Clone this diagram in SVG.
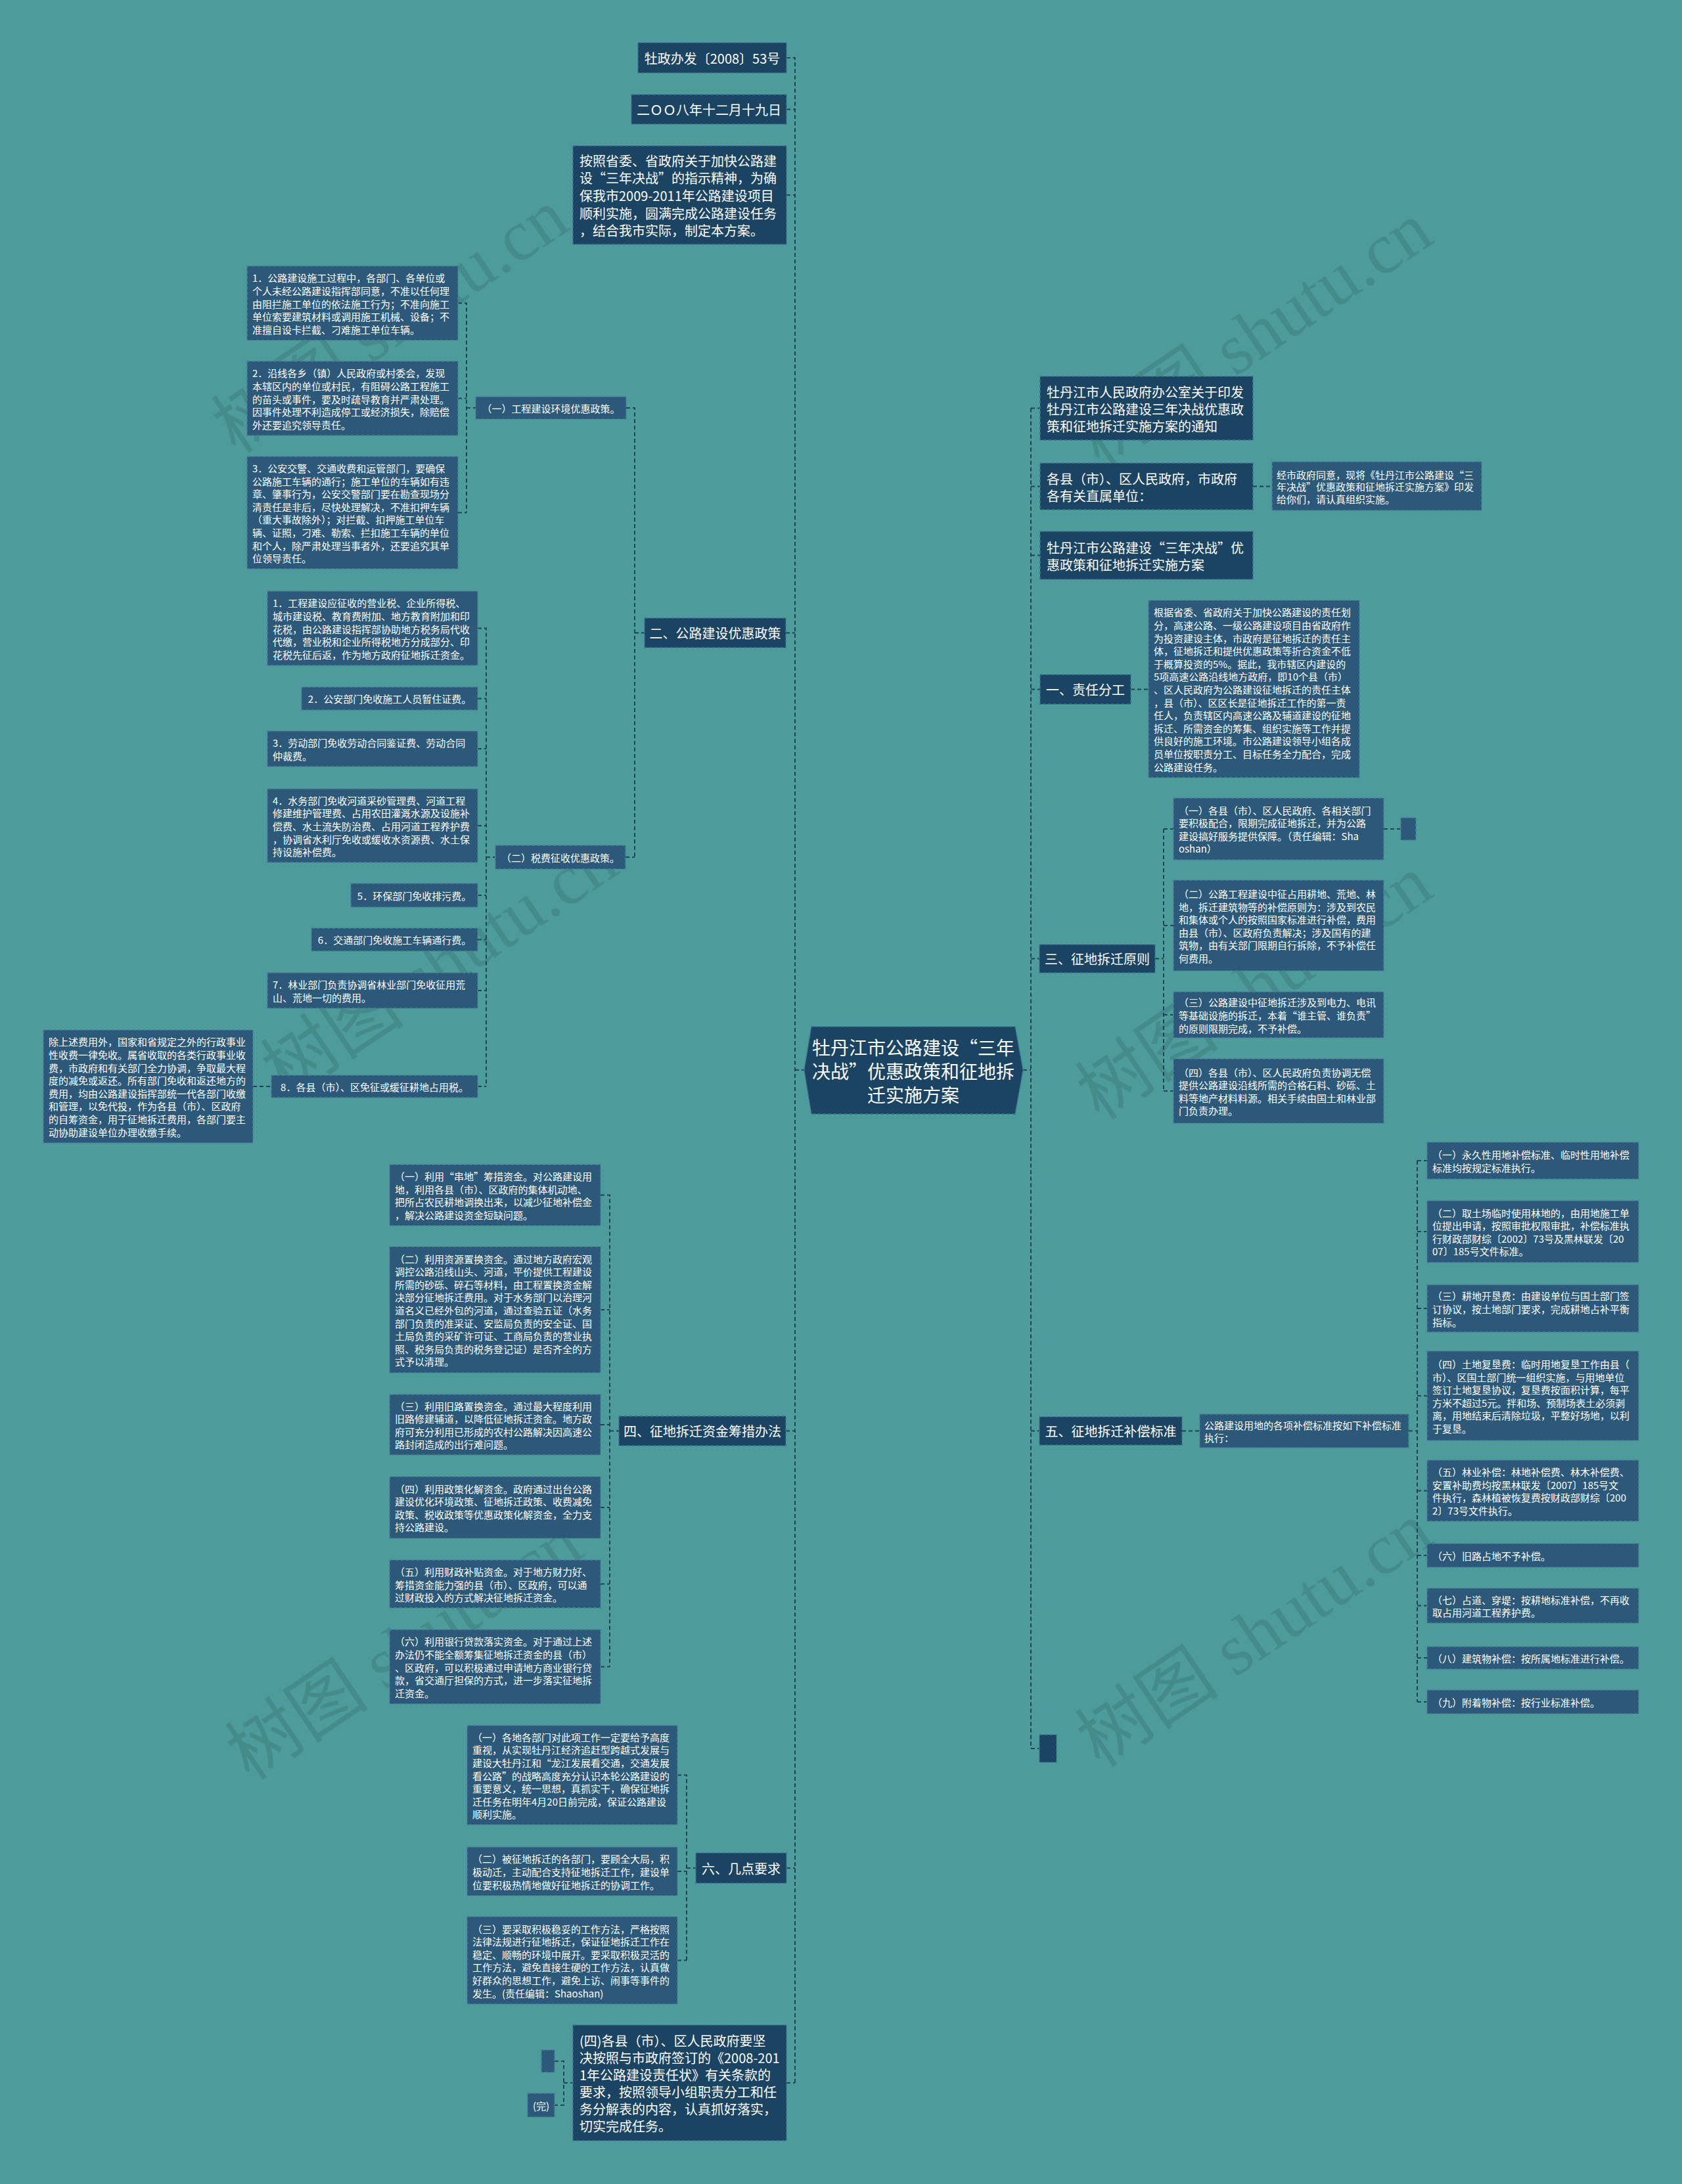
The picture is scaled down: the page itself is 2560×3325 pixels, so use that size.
<svg xmlns="http://www.w3.org/2000/svg" width="2560" height="3325" viewBox="0 0 2560 3325">
<style>
text{font-family:"Noto Sans CJK SC","Noto Sans",sans-serif;fill:#ffffff;dominant-baseline:central}
.m{text-anchor:middle}
.f20{font-size:20px}
.f15{font-size:15px}
.f28{font-size:28px}
.n1 rect,.n1 polygon{fill:#1b4463;stroke:#3e7390;stroke-width:1.5;stroke-dasharray:5 3}
.n2 rect{fill:#2c5979;stroke:#4a7f9c;stroke-width:1.5;stroke-dasharray:5 3}
.c path{fill:none;stroke:#1f4359;stroke-width:2;stroke-dasharray:6 4}
.wm{font-family:"Liberation Serif","Noto Sans CJK SC",serif;font-size:110px;fill:#000;fill-opacity:0.1;dominant-baseline:auto}
</style>
<rect width="2560" height="3325" fill="#4d9b9b"/>
<g id="watermarks">
<text class="wm m" transform="translate(615,520) rotate(-34)">树图 shutu.cn</text>
<text class="wm m" transform="translate(1930,540) rotate(-34)">树图 shutu.cn</text>
<text class="wm m" transform="translate(690,1500) rotate(-34)">树图 shutu.cn</text>
<text class="wm m" transform="translate(1930,1535) rotate(-34)">树图 shutu.cn</text>
<text class="wm m" transform="translate(636,2540) rotate(-34)">树图 shutu.cn</text>
<text class="wm m" transform="translate(1930,2520) rotate(-34)">树图 shutu.cn</text>
</g>
<g class="c" id="connectors">
<path d="M1197,88H1210V3171 M1197,166.5H1210 M1197,297H1210 M1196,963.5H1210 M1196,2178.5H1210 M1197,2844H1210 M1197,3171H1210 M1210,1629H1224"/>
<path d="M953,621H966V1305 M966,963.5H981 M952,1305H966"/>
<path d="M697,461.5H710V780.5 M697,606.5H710 M697,780.5H710 M710,621H724"/>
<path d="M727,956.5H740V1654 M727,1063.5H740 M727,1140H740 M727,1257H740 M727,1363H740 M727,1430.5H740 M727,1508H740 M727,1654H740 M740,1305H754 M385,1654H413"/>
<path d="M914,1819.5H928V2537.5 M914,1994H928 M914,2169H928 M914,2295H928 M914,2411.5H928 M914,2537.5H928 M928,2178.5H942"/>
<path d="M1031,2702.5H1045V2984.5 M1031,2849H1045 M1031,2984.5H1045 M1045,2844H1059"/>
<path d="M844,3138H858V3205H844 M858,3171H872"/>
<path d="M1569,621.5V2662 M1557,1629H1569 M1569,621.5H1583 M1569,740.5H1583 M1569,845.5H1583 M1569,1049.5H1583 M1569,1459.5H1582 M1569,2178.5H1582 M1569,2662H1582"/>
<path d="M1907,740.5H1936 M1721,1049.5H1748"/>
<path d="M1758,1459.5H1771 M1771,1262V1661 M1771,1262H1786 M1771,1409H1786 M1771,1545H1786 M1771,1661H1786 M2106,1262H2132"/>
<path d="M1799,2178.5H1826 M2144,2178.5H2157 M2157,1767V2591 M2157,1767H2172 M2157,1875H2172 M2157,1992H2172 M2157,2125H2172 M2157,2269.5H2172 M2157,2368H2172 M2157,2444.5H2172 M2157,2524H2172 M2157,2591H2172"/>
</g>
<g id="center" class="n1">
<polygon points="1224,1629 1235,1563 1545,1563 1557,1629 1545,1696 1235,1696"/>
<text class="f28 m" x="1390" y="1593.5"><tspan x="1390" dy="0">牡丹江市公路建设“三年</tspan><tspan x="1390" dy="36">决战”优惠政策和征地拆</tspan><tspan x="1390" dy="36">迁实施方案</tspan></text>
</g>
<g id="t1" class="n1"><rect x="971" y="65" width="226" height="46"/><text class="f20 m" x="1084" y="88">牡政办发〔2008〕53号</text></g>
<g id="t2" class="n1"><rect x="961" y="144" width="236" height="45"/><text class="f20 m" x="1079" y="166.5">二ＯＯ八年十二月十九日</text></g>
<g id="t3" class="n1"><rect x="872" y="222" width="325" height="150"/><text class="f20" y="243.6"><tspan x="882" dy="0">按照省委、省政府关于加快公路建</tspan><tspan x="882" dy="26.7">设“三年决战”的指示精神，为确</tspan><tspan x="882" dy="26.7">保我市2009-2011年公路建设项目</tspan><tspan x="882" dy="26.7">顺利实施，圆满完成公路建设任务</tspan><tspan x="882" dy="26.7">，结合我市实际，制定本方案。</tspan></text></g>
<g id="s2" class="n1"><rect x="981" y="941" width="215" height="45"/><text class="f20 m" x="1088.5" y="963.5">二、公路建设优惠政策</text></g>
<g id="s2a" class="n2"><rect x="724" y="604" width="229" height="34"/><text class="f15 m" x="838.5" y="621">（一）工程建设环境优惠政策。</text></g>
<g id="s2a1" class="n2"><rect x="376" y="405" width="321" height="113"/><text class="f15" y="422.3"><tspan x="384" dy="0">1．公路建设施工过程中，各部门、各单位或</tspan><tspan x="384" dy="19.6">个人未经公路建设指挥部同意，不准以任何理</tspan><tspan x="384" dy="19.6">由阻拦施工单位的依法施工行为；不准向施工</tspan><tspan x="384" dy="19.6">单位索要建筑材料或调用施工机械、设备；不</tspan><tspan x="384" dy="19.6">准擅自设卡拦截、刁难施工单位车辆。</tspan></text></g>
<g id="s2a2" class="n2"><rect x="376" y="550" width="321" height="113"/><text class="f15" y="567.3"><tspan x="384" dy="0">2．沿线各乡（镇）人民政府或村委会，发现</tspan><tspan x="384" dy="19.6">本辖区内的单位或村民，有阻碍公路工程施工</tspan><tspan x="384" dy="19.6">的苗头或事件，要及时疏导教育并严肃处理。</tspan><tspan x="384" dy="19.6">因事件处理不利造成停工或经济损失，除赔偿</tspan><tspan x="384" dy="19.6">外还要追究领导责任。</tspan></text></g>
<g id="s2a3" class="n2"><rect x="376" y="695" width="321" height="171"/><text class="f15" y="711.9"><tspan x="384" dy="0">3．公安交警、交通收费和运管部门，要确保</tspan><tspan x="384" dy="19.6">公路施工车辆的通行；施工单位的车辆如有违</tspan><tspan x="384" dy="19.6">章、肇事行为，公安交警部门要在勘查现场分</tspan><tspan x="384" dy="19.6">清责任是非后，尽快处理解决，不准扣押车辆</tspan><tspan x="384" dy="19.6">（重大事故除外）；对拦截、扣押施工单位车</tspan><tspan x="384" dy="19.6">辆、证照，刁难、勒索、拦扣施工车辆的单位</tspan><tspan x="384" dy="19.6">和个人，除严肃处理当事者外，还要追究其单</tspan><tspan x="384" dy="19.6">位领导责任。</tspan></text></g>
<g id="s2b" class="n2"><rect x="754" y="1287" width="198" height="36"/><text class="f15 m" x="853" y="1305">（二）税费征收优惠政策。</text></g>
<g id="s2b1" class="n2"><rect x="407" y="900" width="320" height="113"/><text class="f15" y="917.3"><tspan x="415" dy="0">1．工程建设应征收的营业税、企业所得税、</tspan><tspan x="415" dy="19.6">城市建设税、教育费附加、地方教育附加和印</tspan><tspan x="415" dy="19.6">花税，由公路建设指挥部协助地方税务局代收</tspan><tspan x="415" dy="19.6">代缴，营业税和企业所得税地方分成部分、印</tspan><tspan x="415" dy="19.6">花税先征后返，作为地方政府征地拆迁资金。</tspan></text></g>
<g id="s2b2" class="n2"><rect x="459" y="1046" width="268" height="35"/><text class="f15 m" x="593" y="1063.5">2．公安部门免收施工人员暂住证费。</text></g>
<g id="s2b3" class="n2"><rect x="407" y="1113" width="320" height="54"/><text class="f15" y="1130.2"><tspan x="415" dy="0">3．劳动部门免收劳动合同鉴证费、劳动合同</tspan><tspan x="415" dy="19.6">仲裁费。</tspan></text></g>
<g id="s2b4" class="n2"><rect x="407" y="1201" width="320" height="112"/><text class="f15" y="1217.8"><tspan x="415" dy="0">4．水务部门免收河道采砂管理费、河道工程</tspan><tspan x="415" dy="19.6">修建维护管理费、占用农田灌溉水源及设施补</tspan><tspan x="415" dy="19.6">偿费、水土流失防治费、占用河道工程养护费</tspan><tspan x="415" dy="19.6">，协调省水利厅免收或缓收水资源费、水土保</tspan><tspan x="415" dy="19.6">持设施补偿费。</tspan></text></g>
<g id="s2b5" class="n2"><rect x="534" y="1345" width="193" height="36"/><text class="f15 m" x="630.5" y="1363">5．环保部门免收排污费。</text></g>
<g id="s2b6" class="n2"><rect x="474" y="1413" width="253" height="35"/><text class="f15 m" x="600.5" y="1430.5">6．交通部门免收施工车辆通行费。</text></g>
<g id="s2b7" class="n2"><rect x="407" y="1481" width="320" height="54"/><text class="f15" y="1498.2"><tspan x="415" dy="0">7．林业部门负责协调省林业部门免收征用荒</tspan><tspan x="415" dy="19.6">山、荒地一切的费用。</tspan></text></g>
<g id="s2b8" class="n2"><rect x="413" y="1637" width="314" height="34"/><text class="f15 m" x="570" y="1654">8．各县（市）、区免征或缓征耕地占用税。</text></g>
<g id="s2b8a" class="n2"><rect x="66" y="1568" width="319" height="172"/><text class="f15" y="1585.4"><tspan x="74" dy="0">除上述费用外，国家和省规定之外的行政事业</tspan><tspan x="74" dy="19.6">性收费一律免收。属省收取的各类行政事业收</tspan><tspan x="74" dy="19.6">费，市政府和有关部门全力协调，争取最大程</tspan><tspan x="74" dy="19.6">度的减免或返还。所有部门免收和返还地方的</tspan><tspan x="74" dy="19.6">费用，均由公路建设指挥部统一代各部门收缴</tspan><tspan x="74" dy="19.6">和管理，以免代投，作为各县（市）、区政府</tspan><tspan x="74" dy="19.6">的自筹资金，用于征地拆迁费用，各部门要主</tspan><tspan x="74" dy="19.6">动协助建设单位办理收缴手续。</tspan></text></g>
<g id="s4" class="n1"><rect x="942" y="2156" width="254" height="45"/><text class="f20 m" x="1069" y="2178.5">四、征地拆迁资金筹措办法</text></g>
<g id="s4a" class="n2"><rect x="593" y="1773" width="321" height="93"/><text class="f15" y="1790.1"><tspan x="601" dy="0">（一）利用“串地”筹措资金。对公路建设用</tspan><tspan x="601" dy="19.6">地，利用各县（市）、区政府的集体机动地、</tspan><tspan x="601" dy="19.6">把所占农民耕地调换出来，以减少征地补偿金</tspan><tspan x="601" dy="19.6">，解决公路建设资金短缺问题。</tspan></text></g>
<g id="s4b" class="n2"><rect x="593" y="1898" width="321" height="192"/><text class="f15" y="1915.6"><tspan x="601" dy="0">（二）利用资源置换资金。通过地方政府宏观</tspan><tspan x="601" dy="19.6">调控公路沿线山头、河道，平价提供工程建设</tspan><tspan x="601" dy="19.6">所需的砂砾、碎石等材料，由工程置换资金解</tspan><tspan x="601" dy="19.6">决部分征地拆迁费用。对于水务部门以治理河</tspan><tspan x="601" dy="19.6">道名义已经外包的河道，通过查验五证（水务</tspan><tspan x="601" dy="19.6">部门负责的准采证、安监局负责的安全证、国</tspan><tspan x="601" dy="19.6">土局负责的采矿许可证、工商局负责的营业执</tspan><tspan x="601" dy="19.6">照、税务局负责的税务登记证）是否齐全的方</tspan><tspan x="601" dy="19.6">式予以清理。</tspan></text></g>
<g id="s4c" class="n2"><rect x="593" y="2123" width="321" height="92"/><text class="f15" y="2139.6"><tspan x="601" dy="0">（三）利用旧路置换资金。通过最大程度利用</tspan><tspan x="601" dy="19.6">旧路修建辅道，以降低征地拆迁资金。地方政</tspan><tspan x="601" dy="19.6">府可充分利用已形成的农村公路解决因高速公</tspan><tspan x="601" dy="19.6">路封闭造成的出行难问题。</tspan></text></g>
<g id="s4d" class="n2"><rect x="593" y="2248" width="321" height="94"/><text class="f15" y="2265.6"><tspan x="601" dy="0">（四）利用政策化解资金。政府通过出台公路</tspan><tspan x="601" dy="19.6">建设优化环境政策、征地拆迁政策、收费减免</tspan><tspan x="601" dy="19.6">政策、税收政策等优惠政策化解资金，全力支</tspan><tspan x="601" dy="19.6">持公路建设。</tspan></text></g>
<g id="s4e" class="n2"><rect x="593" y="2375" width="321" height="73"/><text class="f15" y="2391.9"><tspan x="601" dy="0">（五）利用财政补贴资金。对于地方财力好、</tspan><tspan x="601" dy="19.6">筹措资金能力强的县（市）、区政府，可以通</tspan><tspan x="601" dy="19.6">过财政投入的方式解决征地拆迁资金。</tspan></text></g>
<g id="s4f" class="n2"><rect x="593" y="2481" width="321" height="113"/><text class="f15" y="2498.3"><tspan x="601" dy="0">（六）利用银行贷款落实资金。对于通过上述</tspan><tspan x="601" dy="19.6">办法仍不能全额筹集征地拆迁资金的县（市）</tspan><tspan x="601" dy="19.6">、区政府，可以积极通过申请地方商业银行贷</tspan><tspan x="601" dy="19.6">款，省交通厅担保的方式，进一步落实征地拆</tspan><tspan x="601" dy="19.6">迁资金。</tspan></text></g>
<g id="s6" class="n1"><rect x="1059" y="2821" width="138" height="46"/><text class="f20 m" x="1128" y="2844">六、几点要求</text></g>
<g id="s6a" class="n2"><rect x="711" y="2627" width="320" height="151"/><text class="f15" y="2643.7"><tspan x="719" dy="0">（一）各地各部门对此项工作一定要给予高度</tspan><tspan x="719" dy="19.6">重视，从实现牡丹江经济追赶型跨越式发展与</tspan><tspan x="719" dy="19.6">建设大牡丹江和“龙江发展看交通，交通发展</tspan><tspan x="719" dy="19.6">看公路”的战略高度充分认识本轮公路建设的</tspan><tspan x="719" dy="19.6">重要意义，统一思想，真抓实干，确保征地拆</tspan><tspan x="719" dy="19.6">迁任务在明年4月20日前完成，保证公路建设</tspan><tspan x="719" dy="19.6">顺利实施。</tspan></text></g>
<g id="s6b" class="n2"><rect x="711" y="2812" width="320" height="74"/><text class="f15" y="2829.4"><tspan x="719" dy="0">（二）被征地拆迁的各部门，要顾全大局，积</tspan><tspan x="719" dy="19.6">极动迁，主动配合支持征地拆迁工作，建设单</tspan><tspan x="719" dy="19.6">位要积极热情地做好征地拆迁的协调工作。</tspan></text></g>
<g id="s6c" class="n2"><rect x="711" y="2918" width="320" height="133"/><text class="f15" y="2935.5"><tspan x="719" dy="0">（三）要采取积极稳妥的工作方法，严格按照</tspan><tspan x="719" dy="19.6">法律法规进行征地拆迁，保证征地拆迁工作在</tspan><tspan x="719" dy="19.6">稳定、顺畅的环境中展开。要采取积极灵活的</tspan><tspan x="719" dy="19.6">工作方法，避免直接生硬的工作方法，认真做</tspan><tspan x="719" dy="19.6">好群众的思想工作，避免上访、闹事等事件的</tspan><tspan x="719" dy="19.6">发生。(责任编辑：Shaoshan)</tspan></text></g>
<g id="s7" class="n1"><rect x="872" y="3083" width="325" height="176"/><text class="f20" y="3106"><tspan x="882" dy="0">(四)各县（市）、区人民政府要坚</tspan><tspan x="882" dy="26">决按照与市政府签订的《2008-201</tspan><tspan x="882" dy="26">1年公路建设责任状》有关条款的</tspan><tspan x="882" dy="26">要求，按照领导小组职责分工和任</tspan><tspan x="882" dy="26">务分解表的内容，认真抓好落实，</tspan><tspan x="882" dy="26">切实完成任务。</tspan></text></g>
<g id="s7a" class="n2"><rect x="824" y="3121" width="20" height="34"/></g>
<g id="s7b" class="n2"><rect x="803" y="3187" width="41" height="36"/><text class="f15 m" x="823.5" y="3205">(完)</text></g>
<g id="r1" class="n1"><rect x="1583" y="573" width="324" height="97"/><text class="f20" y="595.5"><tspan x="1593" dy="0">牡丹江市人民政府办公室关于印发</tspan><tspan x="1593" dy="26">牡丹江市公路建设三年决战优惠政</tspan><tspan x="1593" dy="26">策和征地拆迁实施方案的通知</tspan></text></g>
<g id="r2" class="n1"><rect x="1583" y="705" width="324" height="71"/><text class="f20" y="727.5"><tspan x="1593" dy="0">各县（市）、区人民政府，市政府</tspan><tspan x="1593" dy="26">各有关直属单位：</tspan></text></g>
<g id="r2a" class="n2"><rect x="1936" y="703" width="319" height="74"/><text class="f15" y="721.5"><tspan x="1943" dy="0">经市政府同意，现将《牡丹江市公路建设“三</tspan><tspan x="1943" dy="18.5">年决战”优惠政策和征地拆迁实施方案》印发</tspan><tspan x="1943" dy="18.5">给你们，请认真组织实施。</tspan></text></g>
<g id="r3" class="n1"><rect x="1583" y="809" width="324" height="73"/><text class="f20" y="832.5"><tspan x="1593" dy="0">牡丹江市公路建设“三年决战”优</tspan><tspan x="1593" dy="26">惠政策和征地拆迁实施方案</tspan></text></g>
<g id="r4" class="n1"><rect x="1583" y="1027" width="138" height="45"/><text class="f20 m" x="1652" y="1049.5">一、责任分工</text></g>
<g id="r4a" class="n2"><rect x="1748" y="914" width="321" height="270"/><text class="f15" y="931.4"><tspan x="1756" dy="0">根据省委、省政府关于加快公路建设的责任划</tspan><tspan x="1756" dy="19.6">分，高速公路、一级公路建设项目由省政府作</tspan><tspan x="1756" dy="19.6">为投资建设主体，市政府是征地拆迁的责任主</tspan><tspan x="1756" dy="19.6">体，征地拆迁和提供优惠政策等折合资金不低</tspan><tspan x="1756" dy="19.6">于概算投资的5%。据此，我市辖区内建设的</tspan><tspan x="1756" dy="19.6">5项高速公路沿线地方政府，即10个县（市）</tspan><tspan x="1756" dy="19.6">、区人民政府为公路建设征地拆迁的责任主体</tspan><tspan x="1756" dy="19.6">，县（市）、区区长是征地拆迁工作的第一责</tspan><tspan x="1756" dy="19.6">任人，负责辖区内高速公路及辅道建设的征地</tspan><tspan x="1756" dy="19.6">拆迁、所需资金的筹集、组织实施等工作并提</tspan><tspan x="1756" dy="19.6">供良好的施工环境。市公路建设领导小组各成</tspan><tspan x="1756" dy="19.6">员单位按职责分工、目标任务全力配合，完成</tspan><tspan x="1756" dy="19.6">公路建设任务。</tspan></text></g>
<g id="r5" class="n1"><rect x="1582" y="1438" width="176" height="43"/><text class="f20 m" x="1670" y="1459.5">三、征地拆迁原则</text></g>
<g id="r5a" class="n2"><rect x="1786" y="1215" width="320" height="94"/><text class="f15" y="1232.6"><tspan x="1794" dy="0">（一）各县（市）、区人民政府、各相关部门</tspan><tspan x="1794" dy="19.6">要积极配合，限期完成征地拆迁，并为公路</tspan><tspan x="1794" dy="19.6">建设搞好服务提供保障。（责任编辑：Sha</tspan><tspan x="1794" dy="19.6">oshan）</tspan></text></g>
<g id="r5a1" class="n2"><rect x="2132" y="1245" width="23" height="34"/></g>
<g id="r5b" class="n2"><rect x="1786" y="1340" width="320" height="138"/><text class="f15" y="1360"><tspan x="1794" dy="0">（二）公路工程建设中征占用耕地、荒地、林</tspan><tspan x="1794" dy="19.6">地，拆迁建筑物等的补偿原则为：涉及到农民</tspan><tspan x="1794" dy="19.6">和集体或个人的按照国家标准进行补偿，费用</tspan><tspan x="1794" dy="19.6">由县（市）、区政府负责解决；涉及国有的建</tspan><tspan x="1794" dy="19.6">筑物，由有关部门限期自行拆除，不予补偿任</tspan><tspan x="1794" dy="19.6">何费用。</tspan></text></g>
<g id="r5c" class="n2"><rect x="1786" y="1510" width="320" height="70"/><text class="f15" y="1525.4"><tspan x="1794" dy="0">（三）公路建设中征地拆迁涉及到电力、电讯</tspan><tspan x="1794" dy="19.6">等基础设施的拆迁，本着“谁主管、谁负责”</tspan><tspan x="1794" dy="19.6">的原则限期完成，不予补偿。</tspan></text></g>
<g id="r5d" class="n2"><rect x="1786" y="1612" width="320" height="98"/><text class="f15" y="1631.6"><tspan x="1794" dy="0">（四）各县（市）、区人民政府负责协调无偿</tspan><tspan x="1794" dy="19.6">提供公路建设沿线所需的合格石料、砂砾、土</tspan><tspan x="1794" dy="19.6">料等地产材料料源。相关手续由国土和林业部</tspan><tspan x="1794" dy="19.6">门负责办理。</tspan></text></g>
<g id="r6" class="n1"><rect x="1582" y="2157" width="217" height="43"/><text class="f20 m" x="1690.5" y="2178.5">五、征地拆迁补偿标准</text></g>
<g id="r6a" class="n2"><rect x="1826" y="2153" width="318" height="51"/><text class="f15" y="2168.7"><tspan x="1833" dy="0">公路建设用地的各项补偿标准按如下补偿标准</tspan><tspan x="1833" dy="19.6">执行：</tspan></text></g>
<g id="g1" class="n2"><rect x="2172" y="1739" width="322" height="56"/><text class="f15" y="1757.2"><tspan x="2180" dy="0">（一）永久性用地补偿标准、临时性用地补偿</tspan><tspan x="2180" dy="19.6">标准均按规定标准执行。</tspan></text></g>
<g id="g2" class="n2"><rect x="2172" y="1828" width="322" height="94"/><text class="f15" y="1845.6"><tspan x="2180" dy="0">（二）取土场临时使用林地的，由用地施工单</tspan><tspan x="2180" dy="19.6">位提出申请，按照审批权限审批，补偿标准执</tspan><tspan x="2180" dy="19.6">行财政部财综〔2002〕73号及黑林联发〔20</tspan><tspan x="2180" dy="19.6">07〕185号文件标准。</tspan></text></g>
<g id="g3" class="n2"><rect x="2172" y="1956" width="322" height="72"/><text class="f15" y="1972.4"><tspan x="2180" dy="0">（三）耕地开垦费：由建设单位与国土部门签</tspan><tspan x="2180" dy="19.6">订协议，按土地部门要求，完成耕地占补平衡</tspan><tspan x="2180" dy="19.6">指标。</tspan></text></g>
<g id="g4" class="n2"><rect x="2172" y="2057" width="322" height="136"/><text class="f15" y="2076"><tspan x="2180" dy="0">（四）土地复垦费：临时用地复垦工作由县（</tspan><tspan x="2180" dy="19.6">市）、区国土部门统一组织实施，与用地单位</tspan><tspan x="2180" dy="19.6">签订土地复垦协议，复垦费按面积计算，每平</tspan><tspan x="2180" dy="19.6">方米不超过5元。拌和场、预制场表土必须剥</tspan><tspan x="2180" dy="19.6">离，用地结束后清除垃圾，平整好场地，以利</tspan><tspan x="2180" dy="19.6">于复垦。</tspan></text></g>
<g id="g5" class="n2"><rect x="2172" y="2223" width="322" height="93"/><text class="f15" y="2240.1"><tspan x="2180" dy="0">（五）林业补偿：林地补偿费、林木补偿费、</tspan><tspan x="2180" dy="19.6">安置补助费均按黑林联发〔2007〕185号文</tspan><tspan x="2180" dy="19.6">件执行，森林植被恢复费按财政部财综〔200</tspan><tspan x="2180" dy="19.6">2〕73号文件执行。</tspan></text></g>
<g id="g6" class="n2"><rect x="2172" y="2350" width="322" height="36"/><text class="f15" x="2180" y="2368">（六）旧路占地不予补偿。</text></g>
<g id="g7" class="n2"><rect x="2172" y="2418" width="322" height="53"/><text class="f15" y="2434.7"><tspan x="2180" dy="0">（七）占道、穿堤：按耕地标准补偿，不再收</tspan><tspan x="2180" dy="19.6">取占用河道工程养护费。</tspan></text></g>
<g id="g8" class="n2"><rect x="2172" y="2507" width="322" height="34"/><text class="f15" x="2180" y="2524">（八）建筑物补偿：按所属地标准进行补偿。</text></g>
<g id="g9" class="n2"><rect x="2172" y="2573" width="322" height="36"/><text class="f15" x="2180" y="2591">（九）附着物补偿：按行业标准补偿。</text></g>
<g id="r7" class="n1"><rect x="1582" y="2641" width="26" height="42"/></g>
</svg>
